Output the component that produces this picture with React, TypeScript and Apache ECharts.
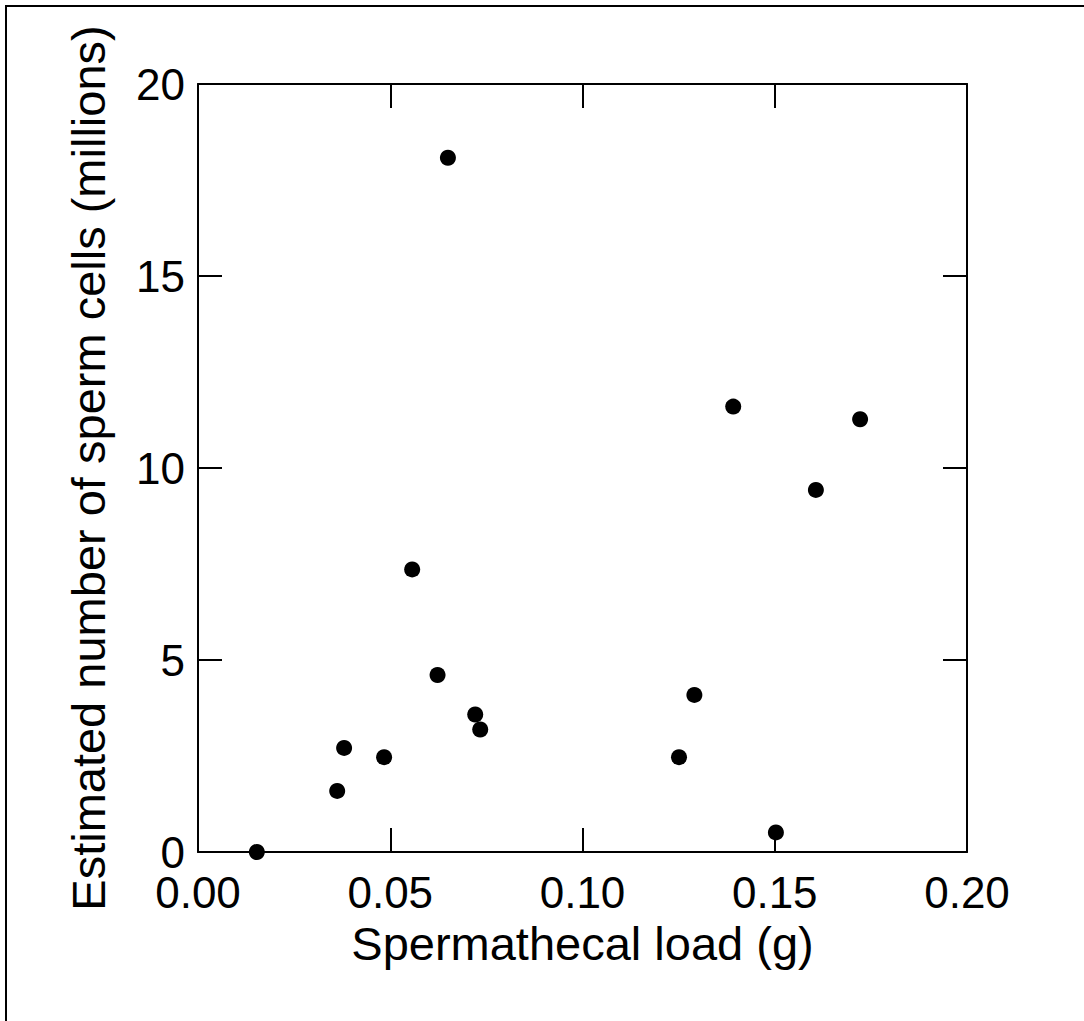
import React, { useEffect, useRef } from "react";
import * as echarts from "echarts";

const loadG = [0.0153, 0.0362, 0.038, 0.0484, 0.0557, 0.0623, 0.065, 0.0721, 0.0734, 0.1251, 0.1291, 0.1392, 0.1503, 0.1607, 0.1722];
const spermMillions = [0.0, 1.59, 2.71, 2.47, 7.36, 4.61, 18.08, 3.58, 3.19, 2.47, 4.09, 11.6, 0.51, 9.43, 11.27];
const xTitle = "Spermathecal load (g)";
const yTitle = "Estimated number of sperm cells (millions)";

const FONT = "'Liberation Sans', Arial, Helvetica, sans-serif";

export default function App() {
  const ref = useRef<HTMLDivElement>(null);
  useEffect(() => {
    document.body.style.margin = "0";
    const chart = echarts.init(ref.current!, undefined, { renderer: "svg" });
    const axisLine = { show: true, onZero: false, lineStyle: { color: "#000", width: 2 } };
    const tick = { show: true, inside: true, length: 24, lineStyle: { color: "#000", width: 2 } };
    chart.setOption({
      animation: false,
      backgroundColor: "#fff",
      grid: { left: 198, top: 84, width: 769, height: 768, containLabel: false },
      xAxis: [
        {
          type: "value",
          min: 0,
          max: 0.2,
          interval: 0.05,
          position: "bottom",
          name: xTitle,
          nameLocation: "middle",
          nameGap: 68,
          nameTextStyle: { fontFamily: FONT, fontSize: 47, color: "#000" },
          axisLine,
          axisTick: tick,
          splitLine: { show: false },
          axisLabel: {
            fontFamily: FONT,
            fontSize: 44,
            lineHeight: 34,
            color: "#000",
            margin: 23,
            formatter: (v: number) => v.toFixed(2),
          },
        },
        {
          type: "value",
          min: 0,
          max: 0.2,
          interval: 0.05,
          position: "top",
          axisLine,
          axisTick: tick,
          splitLine: { show: false },
          axisLabel: { show: false },
        },
      ],
      yAxis: [
        {
          type: "value",
          min: 0,
          max: 20,
          interval: 5,
          position: "left",
          name: yTitle,
          nameLocation: "middle",
          nameGap: 86,
          nameRotate: 90,
          nameTextStyle: { fontFamily: FONT, fontSize: 47, color: "#000" },
          axisLine,
          axisTick: tick,
          splitLine: { show: false },
          axisLabel: { fontFamily: FONT, fontSize: 44, lineHeight: 34, color: "#000", margin: 13 },
        },
        {
          type: "value",
          min: 0,
          max: 20,
          interval: 5,
          position: "right",
          axisLine,
          axisTick: tick,
          splitLine: { show: false },
          axisLabel: { show: false },
        },
      ],
      graphic: [
        {
          type: "rect",
          shape: { x: 6, y: 6, width: 1200, height: 1200 },
          style: { fill: "none", stroke: "#000", lineWidth: 2 },
          silent: true,
        },
      ],
      series: [
        {
          type: "scatter",
          data: loadG.map((x, i) => [x, spermMillions[i]]),
          symbol: "circle",
          symbolSize: 16,
          itemStyle: { color: "#000", opacity: 1 },
          clip: false,
        },
      ],
    });
    return () => chart.dispose();
  }, []);
  return <div ref={ref} style={{ width: 1084, height: 1021 }} />;
}
